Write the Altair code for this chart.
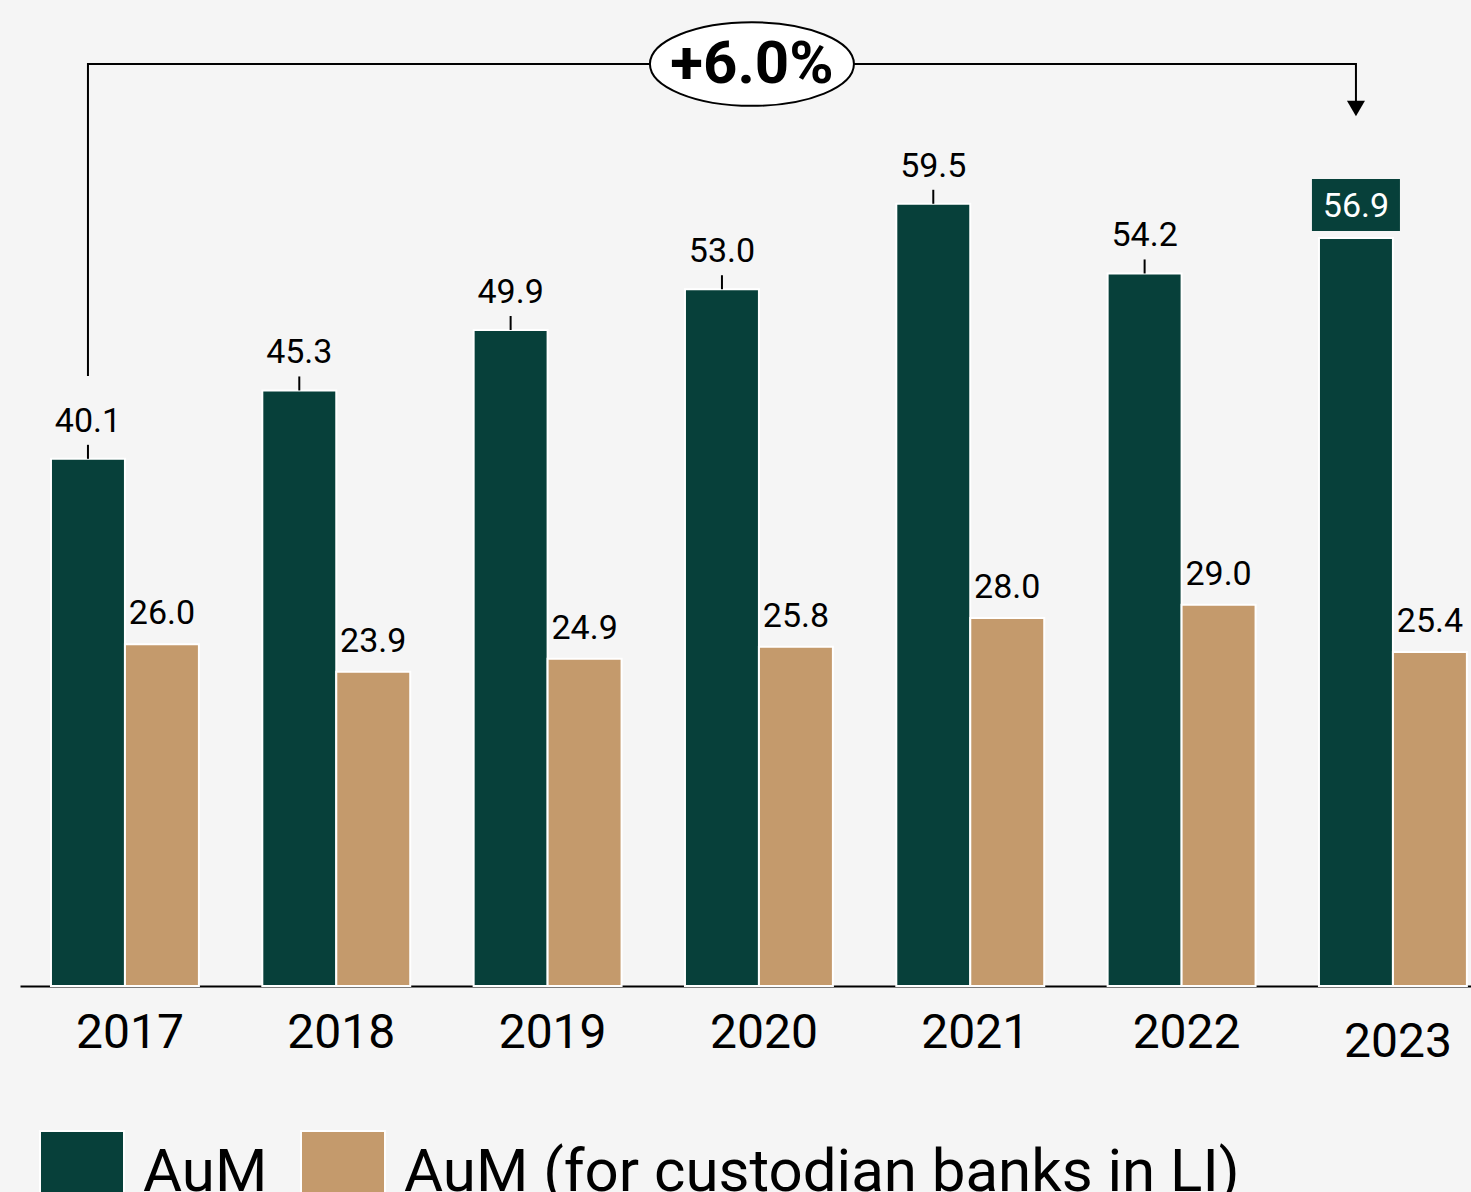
import altair as alt
import pandas as pd

FONT = "Roboto"

years = ["2017", "2018", "2019", "2020", "2021", "2022", "2023"]
aum = [40.1, 45.3, 49.9, 53.0, 59.5, 54.2, 56.9]
aum_custodian = [26.0, 23.9, 24.9, 25.8, 28.0, 29.0, 25.4]
series_names = ["AuM", "AuM (for custodian banks in LI)"]
colors = ["#07403a", "#c49a6c"]
highlight_year = "2023"
growth_label = "+6.0%"
growth_from, growth_to, growth_label_year = "2017", "2023", "2020"

rows = []
for y, a, c in zip(years, aum, aum_custodian):
    rows.append({"year": y, "series": series_names[0], "value": a, "hl": y == highlight_year})
    rows.append({"year": y, "series": series_names[1], "value": c, "hl": False})
df = pd.DataFrame(rows)

# bracket annotation (in data units of the value axis)
bracket = pd.DataFrame({
    "year": [growth_from, growth_from, growth_to, growth_to],
    "series": [series_names[0]] * 4,
    "value": [46.4, 70.13, 70.13, 67.3],
    "ord": [0, 1, 2, 3],
})
arrow = pd.DataFrame({"year": [growth_to], "series": [series_names[0]], "value": [66.75]})
badge = pd.DataFrame({"year": [growth_label_year], "value": [70.13], "label": [growth_label]})

x_enc = alt.X(
    "year:N", sort=years,
    scale=alt.Scale(paddingInner=0.3, paddingOuter=0.083, align=0.883),
    axis=alt.Axis(title=None, labelAngle=0, labelFontSize=48, labelColor="black",
                  labelFont=FONT, ticks=False, domainColor="black", domainWidth=2,
                  labelOffset=5,
                  labelPadding={"condition": {"test": "datum.value == '2023'", "value": 32},
                                "value": 23},
                  grid=False),
)
xo_enc = alt.XOffset("series:N", sort=series_names,
                     scale=alt.Scale(paddingInner=0, paddingOuter=0))
y_enc = alt.Y("value:Q", scale=alt.Scale(domain=[0, 75], nice=False, zero=True), axis=None)

base = alt.Chart(df).encode(x=x_enc, xOffset=xo_enc, y=y_enc)

bars = base.mark_bar(stroke="white", strokeWidth=2).encode(
    color=alt.Color(
        "series:N", sort=series_names,
        scale=alt.Scale(domain=series_names, range=colors),
        legend=alt.Legend(orient="none", legendX=19, legendY=1130, direction="horizontal",
                          title=None, symbolType="square", symbolSize=7056,
                          symbolStrokeColor="white", symbolStrokeWidth=2, symbolOpacity=1,
                          labelFontSize=60, labelFont=FONT, labelColor="black",
                          labelLimit=2000, labelOffset=18, columnPadding=29, padding=0),
    )
)

aum_plain = base.transform_filter(
    (alt.datum.series == series_names[0]) & (alt.datum.hl == False)
)
ticks = aum_plain.mark_rule(color="black", strokeWidth=2, y2Offset=-14).encode(
    y2=alt.Y2("value:Q")
)
aum_labels = aum_plain.mark_text(baseline="alphabetic", dy=-27, fontSize=34, font=FONT,
                                 color="black").encode(text=alt.Text("value:Q", format=".1f"))
cust_labels = base.transform_filter(alt.datum.series == series_names[1]).mark_text(
    baseline="alphabetic", dy=-20, fontSize=34, font=FONT, color="black"
).encode(text=alt.Text("value:Q", format=".1f"))

hl = base.transform_filter(alt.datum.hl == True)
hl_box = hl.mark_point(shape="M-1,-0.59 L1,-0.59 L1,0.59 L-1,0.59 Z", size=7744,
                       filled=True, fill=colors[0], opacity=1, strokeWidth=0, yOffset=-33)
hl_text = hl.mark_text(baseline="alphabetic", dy=-21, fontSize=34, font=FONT,
                       color="white").encode(text=alt.Text("value:Q", format=".1f"))

bracket_line = alt.Chart(bracket).mark_line(color="black", strokeWidth=2).encode(
    x=x_enc, xOffset=xo_enc, y=y_enc, order="ord:Q"
)
arrow_head = alt.Chart(arrow).mark_point(shape="triangle-down", size=324, filled=True,
                                         color="black", opacity=1).encode(
    x=x_enc, xOffset=xo_enc, y=y_enc
)
ellipse = alt.Chart(badge).mark_point(
    shape="M-1,0 A1,0.41 0 1,0 1,0 A1,0.41 0 1,0 -1,0 Z", size=41616, filled=True,
    fill="white", stroke="black", strokeWidth=2, opacity=1, xOffset=-7
).encode(x=x_enc, y=y_enc)
badge_text = alt.Chart(badge).mark_text(fontSize=60, fontWeight="bold", font=FONT,
                                        color="black", baseline="middle", dx=-7, dy=1).encode(
    x=x_enc, y=y_enc, text="label:N"
)

chart = alt.layer(
    bars, ticks, aum_labels, cust_labels, hl_box, hl_text,
    bracket_line, arrow_head, ellipse, badge_text
).properties(
    width=1451, height=986,
    autosize=alt.AutoSizeParams(type="none"),
    padding={"left": 20, "top": 0, "right": 0, "bottom": 206},
    background="#f5f5f5",
).configure_view(stroke=None)

chart.save("out.html", embed_options={"renderer": "svg", "actions": False})
